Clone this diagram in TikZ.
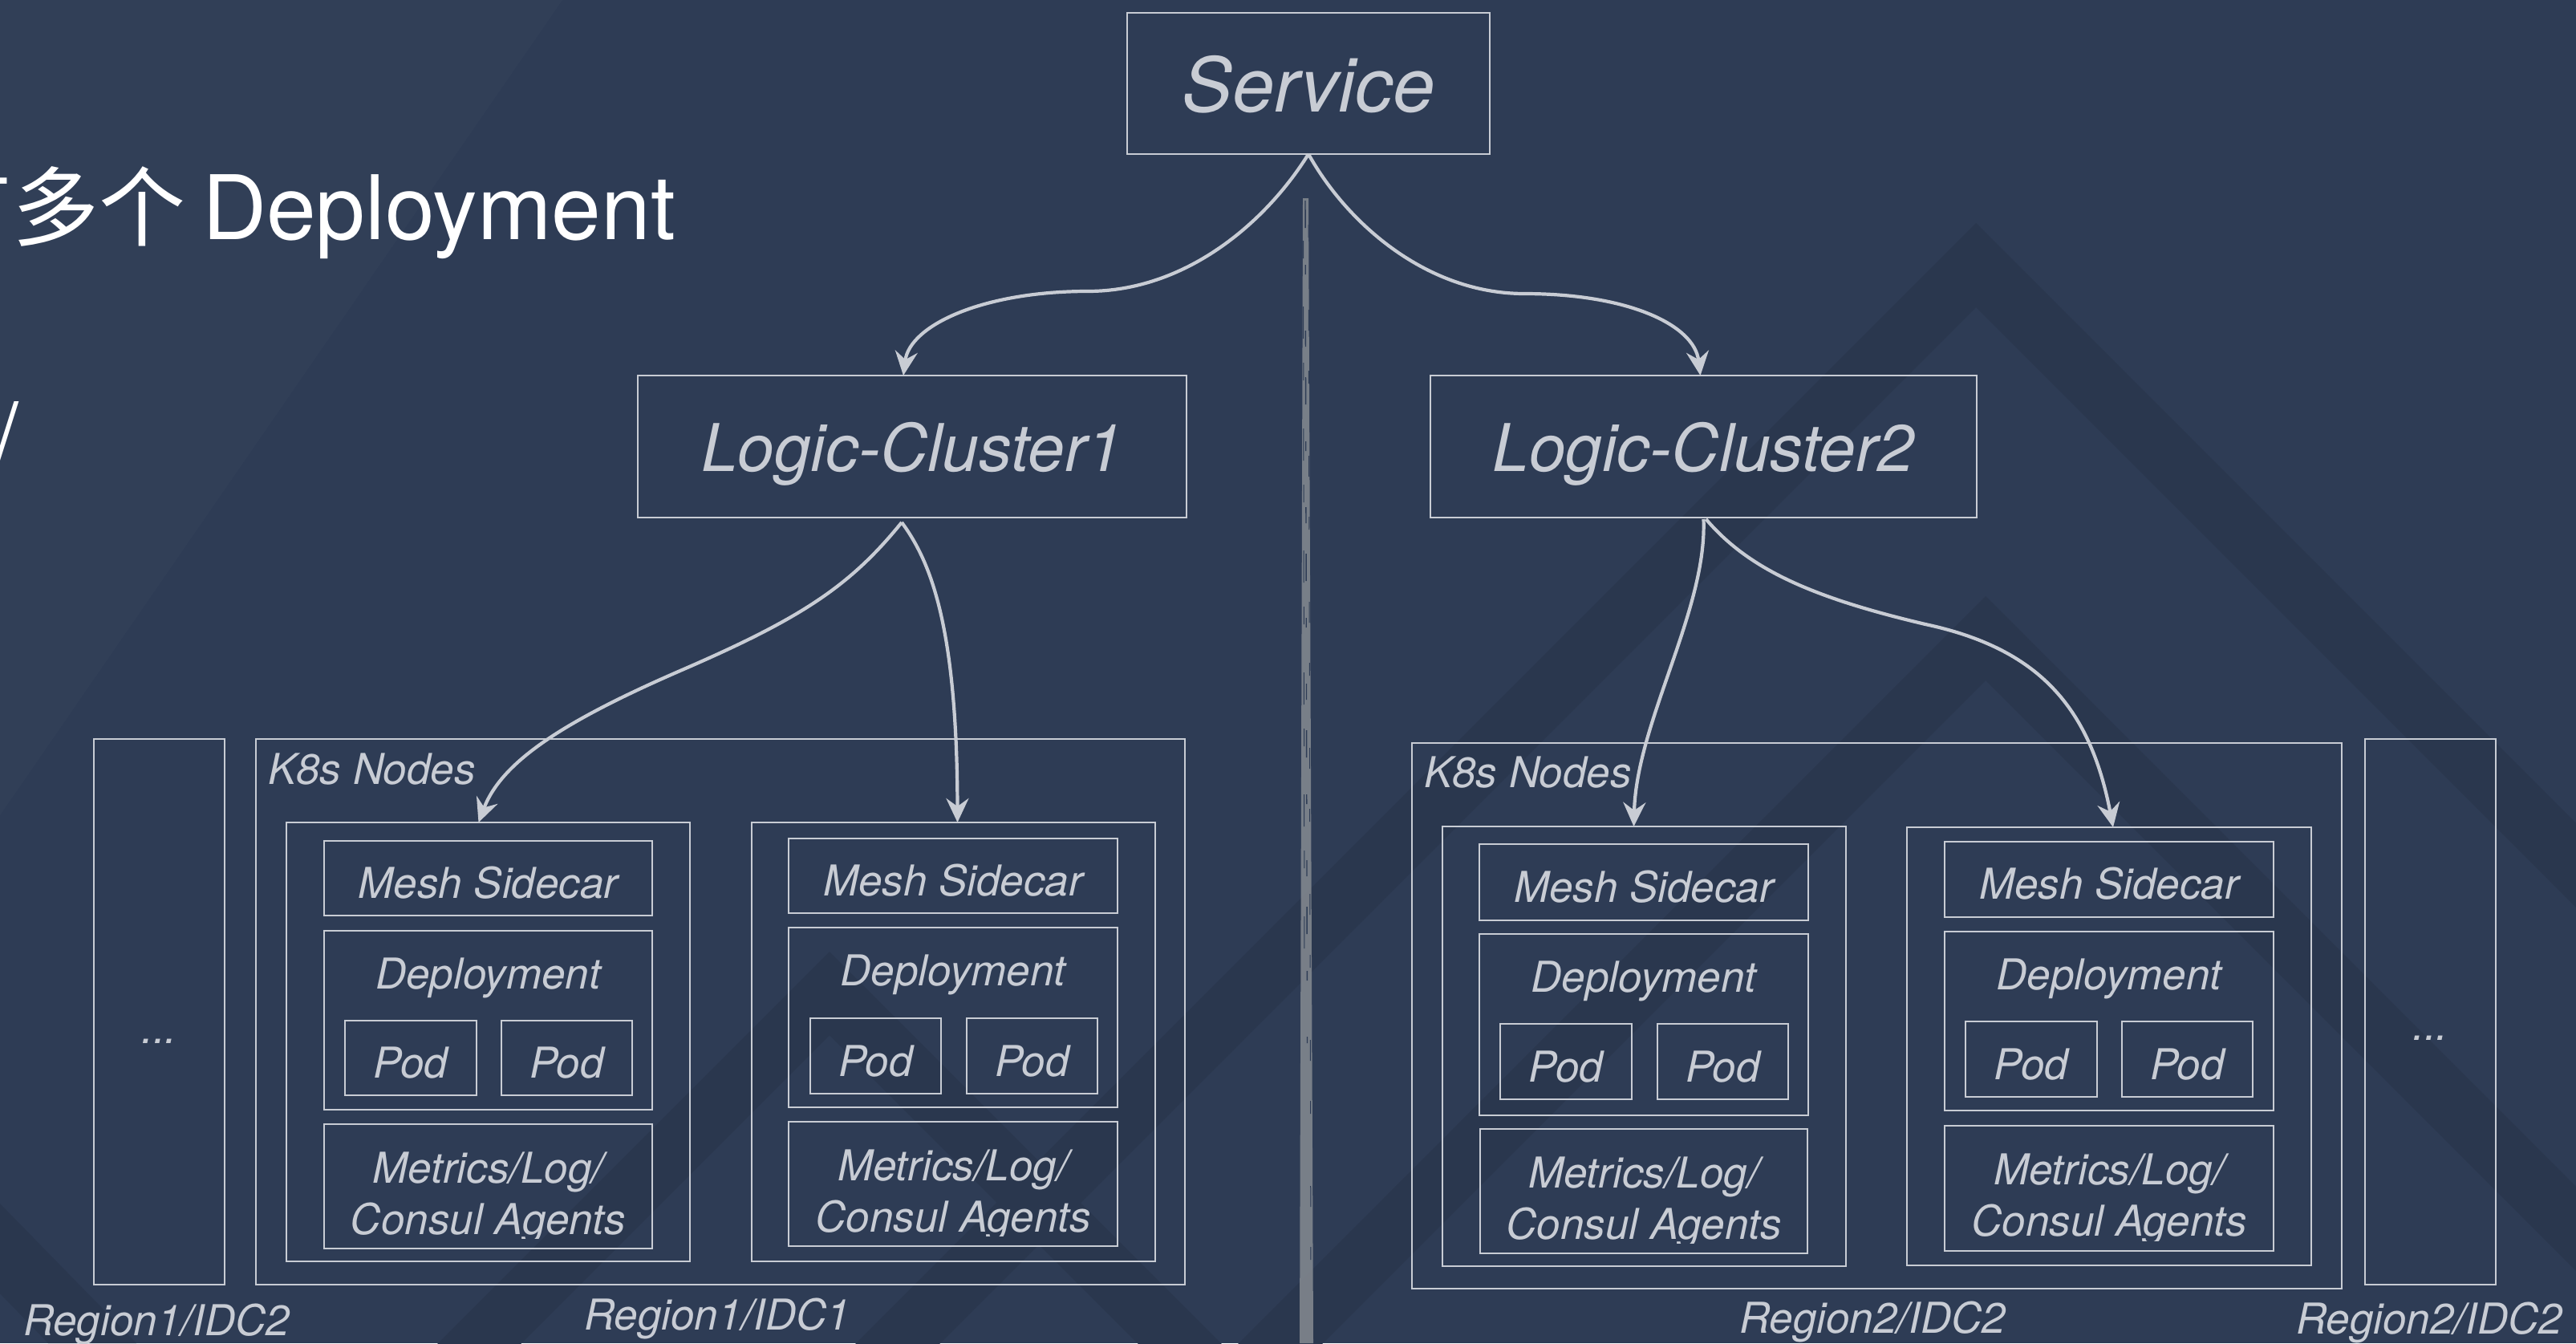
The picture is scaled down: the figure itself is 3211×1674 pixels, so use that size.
\documentclass[tikz,border=0pt]{standalone}
\usepackage{fontspec}
\setmainfont{TeX Gyre Heros}
\newfontfamily\cjk{Noto Sans CJK SC}
\usetikzlibrary{arrows.meta,calc}

\definecolor{bg}{RGB}{46,60,85}
\definecolor{band}{RGB}{42,55,78}
\definecolor{ink}{RGB}{200,204,212}
\definecolor{divgray}{RGB}{134,139,146}

\newcommand\lblfont{\itshape\fontsize{53}{64}\selectfont}

\tikzset{
  frame/.style={draw=ink, line width=2.6pt, inner sep=0pt, outer sep=0pt,
    anchor=north west, text=ink, font=\lblfont, align=center, text depth=0pt},
  lbl/.style={text=ink, font=\lblfont, inner sep=0pt, outer sep=0pt},
  title/.style={text=white, inner sep=0pt, outer sep=0pt},
  link/.style={draw=ink, line width=4.2pt,
    -{Stealth[length=30pt,width=28pt,inset=10pt]}},
}

% box from its top-left (x1,y1) to its bottom-right (x2,y2), y growing downwards
\newcommand\frameat[7][]{%
  \node[frame,#1,minimum width={#5-#3},minimum height={#6-#4}] (#2) at (#3,#4) {#7};}

% chevron band: apex (x,y), vertical thickness t
\newcommand\chevron[3]{%
  \fill[band] (#1-2000,#2+2000) -- (#1,#2) -- (#1+2000,#2+2000)
    -- (#1+2000,#2+#3+2000) -- (#1,#2+#3) -- (#1-2000,#2+#3+2000) -- cycle;}

% two-line agent label, cut off just above the box floor
\newcommand\agentlabel[1]{%
  \begin{scope}
    \clip (#1.north west) rectangle ([yshift=13pt]#1.south east);
    \node[lbl,anchor=base] (#1-a) at ($(#1.north)+(0,73)$) {Metrics/Log/};
    \node[lbl,anchor=base] (#1-b) at ($(#1.north)+(0,137)$) {Consul Agents};
  \end{scope}}

\newcommand\deplabel[1]{%
  \node[lbl,anchor=base] (#1-t) at ($(#1.north)+(0,72)$) {Deployment};}

\begin{document}
\begin{tikzpicture}[x=1pt,y=-1pt]
\useasboundingbox (0,0) rectangle (3211,1674);
\fill[bg] (0,0) rectangle (3211,1674);
\clip (0,0) rectangle (3211,1674);

% background decoration
\fill[white,opacity=0.015] (0,0) -- (701,0) -- (0,1016) -- cycle;
\chevron{2463}{278}{105}
\chevron{2475}{743}{105}
\chevron{1034}{1186}{104}
\fill[band] (0,1500) -- (170,1674) -- (60,1674) -- (0,1612) -- cycle;

% divider between the two regions, a rough chalk-like stroke
\fill[divgray,opacity=0.85] (1624,247) -- (1631,247) -- (1637,1674) -- (1620,1674) -- cycle;
\draw[bg,line width=1.4pt,dash pattern=on 34pt off 46pt on 12pt off 70pt on 20pt off 38pt]
  (1627,250) -- (1629.5,1300);
\draw[bg,line width=1pt,dash pattern=on 22pt off 60pt on 40pt off 30pt]
  (1624.5,300) -- (1626,1200);
\draw[bg,line width=1pt,dash pattern=on 16pt off 90pt on 26pt off 50pt]
  (1631,280) -- (1634,1600);

% heading text
\node[title,anchor=base east,font=\cjk\fontsize{108}{120}\selectfont] (zh) at (232,298) {有多个};
\node[title,anchor=base west,font=\fontsize{111}{124}\selectfont] (deptitle) at (252,298) {Deployment};
\node[title,anchor=base west,font=\fontsize{107}{120}\selectfont] (slash) at (-6,578) {/};

% service and logic clusters
\frameat[font=\itshape\fontsize{94}{110}\selectfont,text height=70pt]{svc}{1405}{16}{1857}{192}{Service}
\frameat[font=\itshape\fontsize{82}{96}\selectfont,text height=61pt]{lc1}{795}{468}{1479}{645}{Logic-Cluster1}
\frameat[font=\itshape\fontsize{82}{96}\selectfont,text height=61pt]{lc2}{1783}{468}{2464}{645}{Logic-Cluster2}

% region 1
\frameat[text height=78pt]{dots1}{117}{921}{280}{1601}{...}
\frameat{k8s1}{319}{921}{1477}{1601}{}
\node[lbl,anchor=base west] (k8s1-t) at ($(k8s1.north west)+(15,56)$) {K8s Nodes};

\frameat{pg1}{357}{1025}{860}{1572}{}
\frameat[text height=49pt]{mesh1}{404}{1048}{813}{1141}{Mesh Sidecar}
\frameat{dep1}{404}{1160}{813}{1383}{}
\deplabel{dep1}
\frameat[text height=50pt]{pod1a}{430}{1272}{594}{1365}{Pod}
\frameat[text height=50pt]{pod1b}{625}{1272}{788}{1365}{Pod}
\frameat{met1}{404}{1401}{813}{1556}{}
\agentlabel{met1}

\frameat{pg2}{937}{1025}{1440}{1572}{}
\frameat[text height=49pt]{mesh2}{983}{1045}{1393}{1138}{Mesh Sidecar}
\frameat{dep2}{983}{1156}{1393}{1380}{}
\deplabel{dep2}
\frameat[text height=50pt]{pod2a}{1010}{1269}{1173}{1363}{Pod}
\frameat[text height=50pt]{pod2b}{1205}{1269}{1368}{1363}{Pod}
\frameat{met2}{983}{1398}{1393}{1553}{}
\agentlabel{met2}

% region 2
\frameat{k8s2}{1760}{926}{2919}{1606}{}
\node[lbl,anchor=base west] (k8s2-t) at ($(k8s2.north west)+(15,55)$) {K8s Nodes};
\frameat[text height=70pt]{dots2}{2948}{921}{3111}{1601}{...}

\frameat{pg3}{1798}{1030}{2301}{1578}{}
\frameat[text height=49pt]{mesh3}{1844}{1052}{2254}{1147}{Mesh Sidecar}
\frameat{dep3}{1844}{1164}{2254}{1390}{}
\deplabel{dep3}
\frameat[text height=50pt]{pod3a}{1870}{1276}{2034}{1370}{Pod}
\frameat[text height=50pt]{pod3b}{2066}{1276}{2229}{1370}{Pod}
\frameat{met3}{1845}{1407}{2253}{1562}{}
\agentlabel{met3}

\frameat{pg4}{2377}{1031}{2881}{1577}{}
\frameat[text height=49pt]{mesh4}{2424}{1049}{2834}{1143}{Mesh Sidecar}
\frameat{dep4}{2424}{1161}{2834}{1384}{}
\deplabel{dep4}
\frameat[text height=50pt]{pod4a}{2450}{1273}{2614}{1367}{Pod}
\frameat[text height=50pt]{pod4b}{2645}{1273}{2808}{1367}{Pod}
\frameat{met4}{2424}{1403}{2834}{1559}{}
\agentlabel{met4}

% region captions
\node[lbl,anchor=base west] (cap1) at (29,1664) {Region1/IDC2};
\node[lbl,anchor=base west] (cap2) at (728,1657) {Region1/IDC1};
\node[lbl,anchor=base west] (cap3) at (2168,1661) {Region2/IDC2};
\node[lbl,anchor=base west] (cap4) at (2862,1662) {Region2/IDC2};

% connectors
\draw[link] (svc.south) .. controls (1576,280) and (1476,363) .. (1356,363)
  .. controls (1226,363) and (1134,405) .. ([xshift=-11pt]lc1.north);
\draw[link] (svc.south) .. controls (1680,280) and (1780,366) .. (1900,366)
  .. controls (2030,366) and (2112,405) .. ([xshift=-4pt]lc2.north);

\draw[link] ([xshift=-13pt,yshift=-6pt]lc1.south) .. controls (1060,730) and (1000,770) .. (850,835)
  .. controls (700,900) and (625,950) .. ([xshift=-12pt]pg1.north);
\draw[link] ([xshift=-13pt,yshift=-6pt]lc1.south) .. controls (1160,700) and (1193,780)
  .. ([xshift=5pt]pg2.north);

\draw[link] ([yshift=-2pt]lc2.south) .. controls (2128,760) and (2040,900)
  .. ([xshift=-13pt]pg3.north);
\draw[link] ([xshift=3pt,yshift=-2pt]lc2.south) .. controls (2180,710) and (2260,745) .. (2400,778)
  .. controls (2540,808) and (2605,880) .. ([xshift=5pt]pg4.north);
\end{tikzpicture}
\end{document}
